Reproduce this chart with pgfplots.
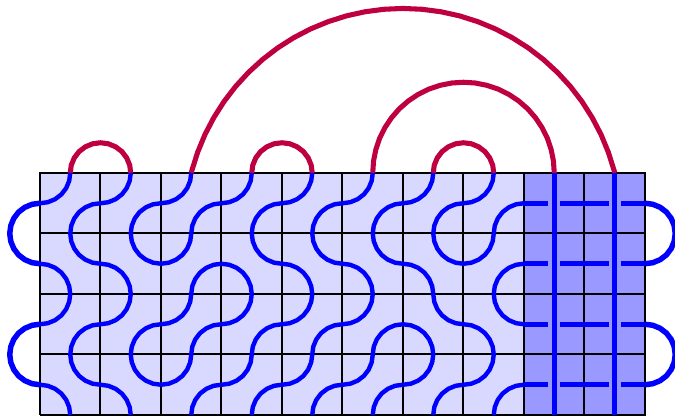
\documentclass[border=0pt]{standalone}
\usepackage{pgfplots}
\pgfplotsset{compat=1.18}
\pgfplotsset{
  strand/.style={blue, line width=3.3pt, line cap=butt, line join=round},
  cap/.style={blue, line width=4.1pt, line join=round},
  arc/.style={purple, line width=3.8pt, line join=round},
}
\begin{document}
\begin{tikzpicture}
\path[use as bounding box] (0,0) rectangle (506.25pt,312pt);
\begin{axis}[
    at={(0,0)}, anchor=south west,
    scale only axis, width=506.25pt, height=312pt,
    xmin=-0.661, xmax=10.496,
    ymin=-0.0165, ymax=6.8595,
    hide axis,
    no markers,
    unbounded coords=jump,
]
% tiles
\addplot[draw=none, fill=blue!15] coordinates {(0,0) (0,4) (8,4) (8,0)} --cycle;
\addplot[draw=none, fill=blue!40] coordinates {(8,0) (8,4) (10,4) (10,0)} --cycle;
% grid
\addplot[black, line width=1.5pt] coordinates {
  (0,0) (0,4) (1,4) (1,0) (2,0) (2,4) (3,4) (3,0) (4,0) (4,4) (5,4) (5,0)
  (6,0) (6,4) (7,4) (7,0) (8,0) (8,4) (9,4) (9,0) (10,0) (10,4)
  (0,4) (0,3) (10,3) (10,2) (0,2) (0,1) (10,1) (10,0) (0,0)};
% arcs above the top edge
\addplot[arc] coordinates {(.5,4) (.517,4.129) (.567,4.25) (.646,4.354) (.75,4.433) (.871,4.483) (1,4.5) (1.129,4.483) (1.25,4.433) (1.354,4.354) (1.433,4.25) (1.483,4.129) (1.5,4)};
\addplot[arc] coordinates {(3.5,4) (3.517,4.129) (3.567,4.25) (3.646,4.354) (3.75,4.433) (3.871,4.483) (4,4.5) (4.129,4.483) (4.25,4.433) (4.354,4.354) (4.433,4.25) (4.483,4.129) (4.5,4)};
\addplot[arc] coordinates {(6.5,4) (6.517,4.129) (6.567,4.25) (6.646,4.354) (6.75,4.433) (6.871,4.483) (7,4.5) (7.129,4.483) (7.25,4.433) (7.354,4.354) (7.433,4.25) (7.483,4.129) (7.5,4)};
\addplot[arc] coordinates {(5.5,4) (5.513,4.196) (5.551,4.388) (5.614,4.574) (5.701,4.75) (5.81,4.913) (5.939,5.061) (6.087,5.19) (6.25,5.299) (6.426,5.386) (6.612,5.449) (6.804,5.487) (7,5.5)
  (7.196,5.487) (7.388,5.449) (7.574,5.386) (7.75,5.299) (7.913,5.19) (8.061,5.061) (8.19,4.913) (8.299,4.75) (8.386,4.574) (8.449,4.388) (8.487,4.196) (8.5,4)};
\addplot[arc] coordinates {(2.5,4) (2.511,4.043) (2.606,4.343) (2.726,4.634) (2.872,4.914) (3.041,5.18) (3.233,5.43) (3.446,5.662) (3.678,5.875) (3.928,6.067) (4.194,6.236) (4.474,6.382) (4.765,6.502) (5.065,6.597) (5.373,6.665) (5.685,6.706) (6,6.72)
  (6.315,6.706) (6.627,6.665) (6.935,6.597) (7.235,6.502) (7.526,6.382) (7.806,6.236) (8.072,6.067) (8.322,5.875) (8.554,5.662) (8.767,5.43) (8.959,5.18) (9.128,4.914) (9.274,4.634) (9.394,4.343) (9.489,4.043) (9.5,4)};
% strands in the light tiles
\addplot[strand] coordinates {(.5,4) (.483,3.871) (.433,3.75) (.354,3.646) (.25,3.567) (.129,3.517) (0,3.5)};
\addplot[strand] coordinates {(0,2.5) (.129,2.483) (.25,2.433) (.354,2.354) (.433,2.25) (.483,2.129) (.5,2)
  (.483,1.871) (.433,1.75) (.354,1.646) (.25,1.567) (.129,1.517) (0,1.5)};
\addplot[strand] coordinates {(0,.5) (.129,.483) (.25,.433) (.354,.354) (.433,.25) (.483,.129) (.5,0)};
\addplot[strand] coordinates {(1.5,4) (1.483,3.871) (1.433,3.75) (1.354,3.646) (1.25,3.567) (1.129,3.517) (1,3.5)
  (.871,3.483) (.75,3.433) (.646,3.354) (.567,3.25) (.517,3.129) (.5,3)
  (.517,2.871) (.567,2.75) (.646,2.646) (.75,2.567) (.871,2.517) (1,2.5)
  (1.129,2.483) (1.25,2.433) (1.354,2.354) (1.433,2.25) (1.483,2.129) (1.5,2)
  (1.483,1.871) (1.433,1.75) (1.354,1.646) (1.25,1.567) (1.129,1.517) (1,1.5)
  (.871,1.483) (.75,1.433) (.646,1.354) (.567,1.25) (.517,1.129) (.5,1)
  (.517,.871) (.567,.75) (.646,.646) (.75,.567) (.871,.517) (1,.5)
  (1.129,.483) (1.25,.433) (1.354,.354) (1.433,.25) (1.483,.129) (1.5,0)};
\addplot[strand] coordinates {(2.5,4) (2.483,3.871) (2.433,3.75) (2.354,3.646) (2.25,3.567) (2.129,3.517) (2,3.5)
  (1.871,3.483) (1.75,3.433) (1.646,3.354) (1.567,3.25) (1.517,3.129) (1.5,3)
  (1.517,2.871) (1.567,2.75) (1.646,2.646) (1.75,2.567) (1.871,2.517) (2,2.5)
  (2.129,2.517) (2.25,2.567) (2.354,2.646) (2.433,2.75) (2.483,2.871) (2.5,3)
  (2.517,3.129) (2.567,3.25) (2.646,3.354) (2.75,3.433) (2.871,3.483) (3,3.5)
  (3.129,3.517) (3.25,3.567) (3.354,3.646) (3.433,3.75) (3.483,3.871) (3.5,4)};
\addplot[strand] coordinates {(4.5,4) (4.483,3.871) (4.433,3.75) (4.354,3.646) (4.25,3.567) (4.129,3.517) (4,3.5)
  (3.871,3.483) (3.75,3.433) (3.646,3.354) (3.567,3.25) (3.517,3.129) (3.5,3)
  (3.517,2.871) (3.567,2.75) (3.646,2.646) (3.75,2.567) (3.871,2.517) (4,2.5)
  (4.129,2.483) (4.25,2.433) (4.354,2.354) (4.433,2.25) (4.483,2.129) (4.5,2)
  (4.483,1.871) (4.433,1.75) (4.354,1.646) (4.25,1.567) (4.129,1.517) (4,1.5)
  (3.871,1.483) (3.75,1.433) (3.646,1.354) (3.567,1.25) (3.517,1.129) (3.5,1)
  (3.483,.871) (3.433,.75) (3.354,.646) (3.25,.567) (3.129,.517) (3,.5)
  (2.871,.483) (2.75,.433) (2.646,.354) (2.567,.25) (2.517,.129) (2.5,0)};
\addplot[strand] coordinates {(5.5,4) (5.483,3.871) (5.433,3.75) (5.354,3.646) (5.25,3.567) (5.129,3.517) (5,3.5)
  (4.871,3.483) (4.75,3.433) (4.646,3.354) (4.567,3.25) (4.517,3.129) (4.5,3)
  (4.517,2.871) (4.567,2.75) (4.646,2.646) (4.75,2.567) (4.871,2.517) (5,2.5)
  (5.129,2.483) (5.25,2.433) (5.354,2.354) (5.433,2.25) (5.483,2.129) (5.5,2)
  (5.483,1.871) (5.433,1.75) (5.354,1.646) (5.25,1.567) (5.129,1.517) (5,1.5)
  (4.871,1.483) (4.75,1.433) (4.646,1.354) (4.567,1.25) (4.517,1.129) (4.5,1)
  (4.483,.871) (4.433,.75) (4.354,.646) (4.25,.567) (4.129,.517) (4,.5)
  (3.871,.483) (3.75,.433) (3.646,.354) (3.567,.25) (3.517,.129) (3.5,0)};
\addplot[strand] coordinates {(6.5,4) (6.483,3.871) (6.433,3.75) (6.354,3.646) (6.25,3.567) (6.129,3.517) (6,3.5)
  (5.871,3.483) (5.75,3.433) (5.646,3.354) (5.567,3.25) (5.517,3.129) (5.5,3)
  (5.517,2.871) (5.567,2.75) (5.646,2.646) (5.75,2.567) (5.871,2.517) (6,2.5)
  (6.129,2.483) (6.25,2.433) (6.354,2.354) (6.433,2.25) (6.483,2.129) (6.5,2)
  (6.517,1.871) (6.567,1.75) (6.646,1.646) (6.75,1.567) (6.871,1.517) (7,1.5)
  (7.129,1.483) (7.25,1.433) (7.354,1.354) (7.433,1.25) (7.483,1.129) (7.5,1)
  (7.483,.871) (7.433,.75) (7.354,.646) (7.25,.567) (7.129,.517) (7,.5)
  (6.871,.483) (6.75,.433) (6.646,.354) (6.567,.25) (6.517,.129) (6.5,0)};
\addplot[strand] coordinates {(7.5,4) (7.483,3.871) (7.433,3.75) (7.354,3.646) (7.25,3.567) (7.129,3.517) (7,3.5)
  (6.871,3.483) (6.75,3.433) (6.646,3.354) (6.567,3.25) (6.517,3.129) (6.5,3)
  (6.517,2.871) (6.567,2.75) (6.646,2.646) (6.75,2.567) (6.871,2.517) (7,2.5)
  (7.129,2.517) (7.25,2.567) (7.354,2.646) (7.433,2.75) (7.483,2.871) (7.5,3)
  (7.517,3.129) (7.567,3.25) (7.646,3.354) (7.75,3.433) (7.871,3.483) (8,3.5)};
\addplot[strand] coordinates {(8,2.5) (7.871,2.483) (7.75,2.433) (7.646,2.354) (7.567,2.25) (7.517,2.129) (7.5,2)
  (7.517,1.871) (7.567,1.75) (7.646,1.646) (7.75,1.567) (7.871,1.517) (8,1.5)};
\addplot[strand] coordinates {(8,.5) (7.871,.483) (7.75,.433) (7.646,.354) (7.567,.25) (7.517,.129) (7.5,0)};
% closed loop
\addplot[strand, line cap=round] coordinates {(3,2.5) (3.129,2.483) (3.25,2.433) (3.354,2.354) (3.433,2.25) (3.483,2.129) (3.5,2)
  (3.483,1.871) (3.433,1.75) (3.354,1.646) (3.25,1.567) (3.129,1.517) (3,1.5)
  (2.871,1.483) (2.75,1.433) (2.646,1.354) (2.567,1.25) (2.517,1.129) (2.5,1)
  (2.483,.871) (2.433,.75) (2.354,.646) (2.25,.567) (2.129,.517) (2,.5)
  (1.871,.517) (1.75,.567) (1.646,.646) (1.567,.75) (1.517,.871) (1.5,1)
  (1.517,1.129) (1.567,1.25) (1.646,1.354) (1.75,1.433) (1.871,1.483) (2,1.5)
  (2.129,1.517) (2.25,1.567) (2.354,1.646) (2.433,1.75) (2.483,1.871) (2.5,2)
  (2.517,2.129) (2.567,2.25) (2.646,2.354) (2.75,2.433) (2.871,2.483) (3,2.5)};
\addplot[strand] coordinates {(4.5,0) (4.517,.129) (4.567,.25) (4.646,.354) (4.75,.433) (4.871,.483) (5,.5)
  (5.129,.517) (5.25,.567) (5.354,.646) (5.433,.75) (5.483,.871) (5.5,1)
  (5.517,1.129) (5.567,1.25) (5.646,1.354) (5.75,1.433) (5.871,1.483) (6,1.5)
  (6.129,1.483) (6.25,1.433) (6.354,1.354) (6.433,1.25) (6.483,1.129) (6.5,1)
  (6.483,.871) (6.433,.75) (6.354,.646) (6.25,.567) (6.129,.517) (6,.5)
  (5.871,.483) (5.75,.433) (5.646,.354) (5.567,.25) (5.517,.129) (5.5,0)};
% caps left and right
\addplot[cap] coordinates {(0,3.5) (-.129,3.483) (-.25,3.433) (-.354,3.354) (-.433,3.25) (-.483,3.129) (-.5,3) (-.483,2.871) (-.433,2.75) (-.354,2.646) (-.25,2.567) (-.129,2.517) (0,2.5)};
\addplot[cap] coordinates {(0,1.5) (-.129,1.483) (-.25,1.433) (-.354,1.354) (-.433,1.25) (-.483,1.129) (-.5,1) (-.483,.871) (-.433,.75) (-.354,.646) (-.25,.567) (-.129,.517) (0,.5)};
\addplot[cap] coordinates {(10,3.5) (10.129,3.483) (10.25,3.433) (10.354,3.354) (10.433,3.25) (10.483,3.129) (10.5,3) (10.483,2.871) (10.433,2.75) (10.354,2.646) (10.25,2.567) (10.129,2.517) (10,2.5)};
\addplot[cap] coordinates {(10,1.5) (10.129,1.483) (10.25,1.433) (10.354,1.354) (10.433,1.25) (10.483,1.129) (10.5,1) (10.483,.871) (10.433,.75) (10.354,.646) (10.25,.567) (10.129,.517) (10,.5)};
% dark tiles: through lines and broken crossing lines
\addplot[blue, line width=4pt] coordinates {(8.5,0) (8.5,4)};
\addplot[blue, line width=4pt] coordinates {(9.5,0) (9.5,4)};
\addplot[blue, line width=4pt] coordinates {
  (8,3.5) (8.4,3.5) (nan,nan) (8.6,3.5) (9.4,3.5) (nan,nan) (9.6,3.5) (10,3.5) (nan,nan)
  (8,2.5) (8.4,2.5) (nan,nan) (8.6,2.5) (9.4,2.5) (nan,nan) (9.6,2.5) (10,2.5) (nan,nan)
  (8,1.5) (8.4,1.5) (nan,nan) (8.6,1.5) (9.4,1.5) (nan,nan) (9.6,1.5) (10,1.5) (nan,nan)
  (8,.5) (8.4,.5) (nan,nan) (8.6,.5) (9.4,.5) (nan,nan) (9.6,.5) (10,.5)};
\end{axis}
\end{tikzpicture}
\end{document}
